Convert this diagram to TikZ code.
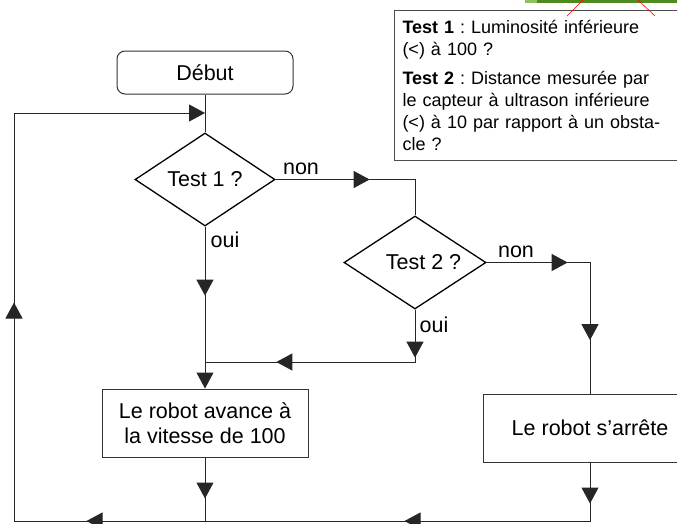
\documentclass[tikz,border=0pt]{standalone}
\usepackage{fontspec}
\setmainfont{Liberation Sans}
\usetikzlibrary{shapes.geometric,arrows.meta,decorations.markings}

\definecolor{bargreen}{HTML}{4F8A1E}
\definecolor{barlight}{HTML}{8CC063}

\tikzset{
  x=1pt, y=1pt,
  every node/.style={font=\fontsize{21.5}{25}\selectfont},
  flow/.style={draw=black!85, line width=1pt},
  headtip/.tip={Triangle[length=16pt,width=17pt]},
  tipsat/.style={postaction={decorate,decoration={markings,
      mark=at position #1 with {\arrow{headtip}}}}},
  startbox/.style={draw=black!80, line width=1pt, rounded corners=8pt,
      minimum width=176pt, minimum height=43pt, inner sep=0pt},
  decision/.style={diamond, draw=black, line width=1.3pt, aspect=1.5,
      minimum width=140pt, minimum height=93pt, inner sep=0pt},
  procbox/.style={draw=black!80, line width=1pt, minimum height=68pt,
      align=center, inner sep=0pt},
  lbl/.style={anchor=base, inner sep=0pt},
  notebox/.style={draw=black!70, line width=1pt, fill=white, anchor=north west,
      text width=294pt, inner xsep=8pt, inner ysep=0pt, align=left,
      minimum height=150pt, font=\fontsize{18}{22}\selectfont},
}

\frenchspacing

\begin{document}
\begin{tikzpicture}
\useasboundingbox (0,0) rectangle (677,-523);
\clip (0,0) rectangle (677,-523);

% legend box with the two tests
\node[notebox] (note) at (394,-10)
  {\textbf{Test 1} : Luminosité inférieure\\
   (<) à 100 ?\\[7pt]
   \textbf{Test 2} : Distance mesurée par\\
   le capteur à ultrason inférieure\\
   (<) à 10 par rapport à un obsta-\\
   cle ?};

% strip at the upper right corner
\fill[barlight] (525,0) rectangle (540,-2.5);
\fill[bargreen] (537,0) rectangle (677,-2.5);
\draw[red, line width=0.6pt] (583,0) -- (567,-16);
\draw[red, line width=0.6pt] (638,0) -- (655,-16);

% flowchart nodes
\node[startbox] (deb) at (205,-72.5) {Début};
\node[decision] (t1) at (205,-179.5) {Test 1 ?};
\node[decision, minimum width=142pt] (t2) at (415,-262.5) {\hspace*{17pt}Test 2 ?};
\node[procbox, minimum width=206pt] (av) at (205,-423) {Le robot avance à\\la vitesse de 100};
\node[procbox, minimum width=214pt] (ar) at (590,-428) {Le robot s’arrête};

% bends of the connectors
\coordinate (c1) at (415,-179.5);
\coordinate (c2) at (590,-262.5);
\coordinate (c3) at (415,-362);
\coordinate (j1) at (205,-362);
\coordinate (bm) at (205,-521);
\coordinate (br) at (590,-521);
\coordinate (bl) at (14,-521);
\coordinate (tl) at (14,-113);
\coordinate (j0) at (205,-113);

% connectors
\draw[flow] (deb.south) -- (t1.north);
\draw[flow, tipsat=94pt] (t1.east) -- (c1) -- (t2.north);
\draw[flow, tipsat=69pt, -{headtip}] (t1.south) -- (av.north);
\draw[flow, tipsat=81pt, tipsat=181pt] (t2.east) -- (c2) -- (ar.north);
\draw[flow, tipsat=48pt, tipsat=191pt] (t2.south) -- (c3) -- (j1);
\draw[flow, tipsat=41pt] (av.south) -- (bm);
\draw[flow, tipsat=41pt, tipsat=244pt, tipsat=562pt, tipsat=853pt, -{headtip}]
  (ar.south) -- (br) -- (bl) -- (tl) -- (j0);

% branch labels
\node[lbl] (n1) at (301,-174) {non};
\node[lbl] (o1) at (225,-247) {oui};
\node[lbl] (n2) at (516,-257) {non};
\node[lbl] (o2) at (434,-332) {oui};
\end{tikzpicture}
\end{document}
